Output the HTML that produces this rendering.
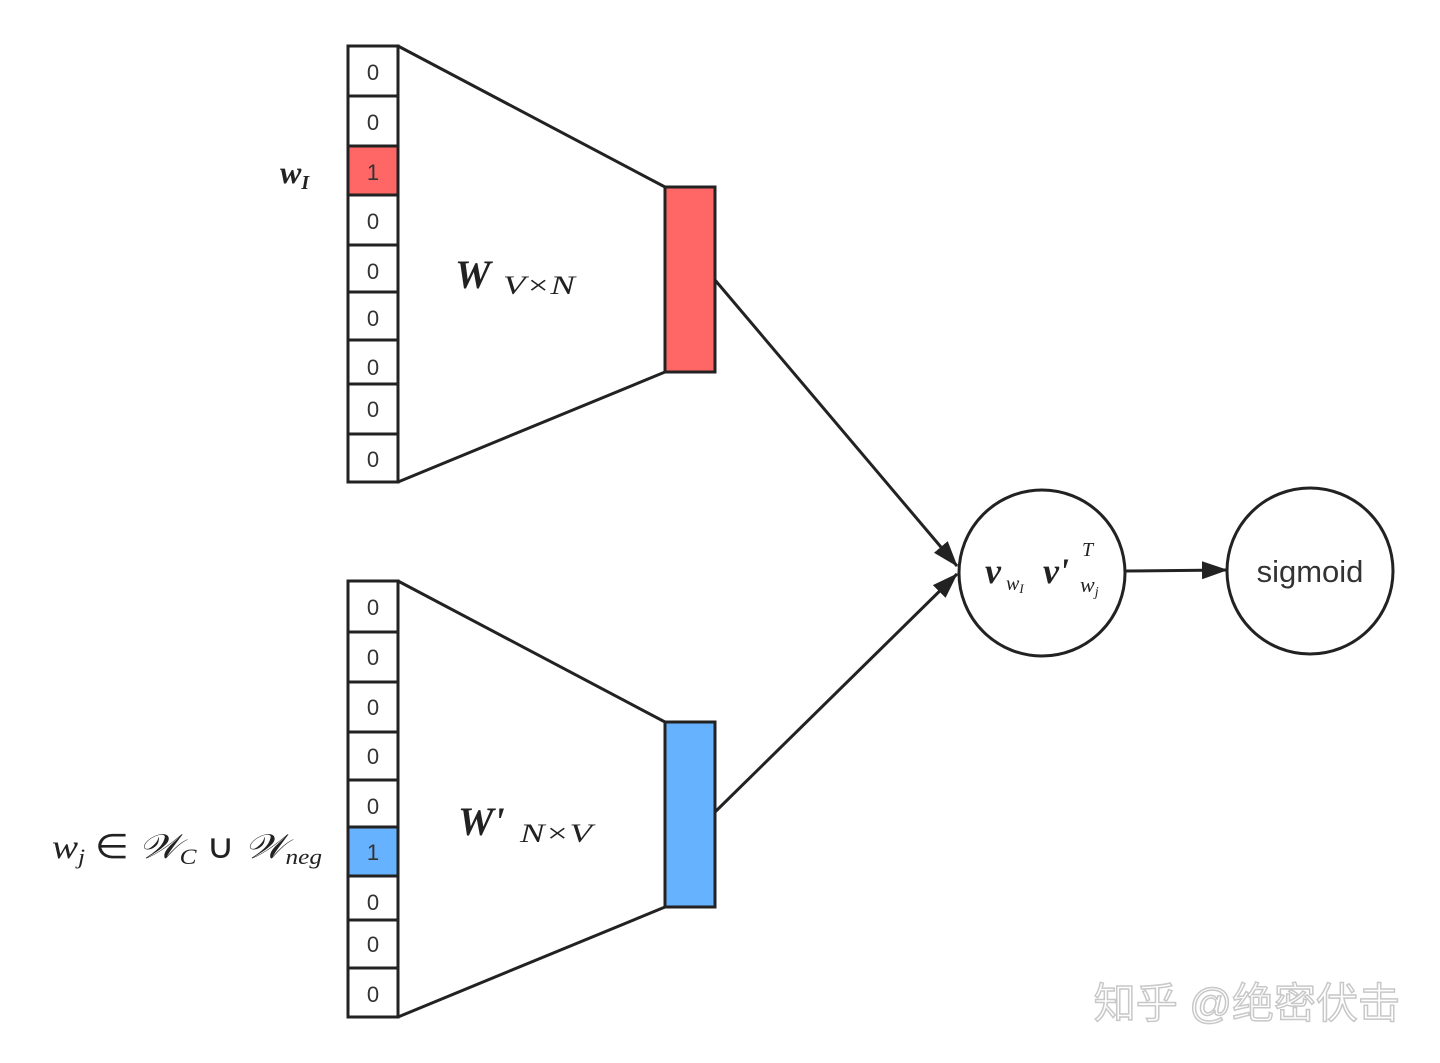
<!DOCTYPE html>
<html><head><meta charset="utf-8"><style>
html,body{margin:0;padding:0;background:#fff;}
svg{display:block;}
.n{font-family:"Liberation Sans",sans-serif;font-size:22px;fill:#333;text-anchor:middle;}
.m{font-family:"Liberation Serif",serif;fill:#222;}
</style></head><body>
<svg width="1440" height="1063" viewBox="0 0 1440 1063" xmlns="http://www.w3.org/2000/svg">
<defs>
<marker id="b" markerWidth="26" markerHeight="20" refX="25" refY="10" orient="auto" markerUnits="userSpaceOnUse" viewBox="0 0 26 20"><path d="M0,1 L26,10 L0,19 z" fill="#222"/></marker></defs>
<g stroke="#222" stroke-width="3" fill="none">
<line x1="398" y1="46" x2="665" y2="187"/><line x1="398" y1="482" x2="665" y2="372"/>
<line x1="398" y1="581" x2="665" y2="722"/><line x1="398" y1="1017" x2="665" y2="907"/>
<line x1="715" y1="280" x2="957" y2="566" marker-end="url(#b)"/>
<line x1="715" y1="812" x2="957" y2="574" marker-end="url(#b)"/>
<line x1="1125" y1="571" x2="1227" y2="570" marker-end="url(#b)"/>
<circle cx="1042" cy="573" r="83"/><circle cx="1310" cy="571" r="83"/>
</g>
<g stroke="#222" stroke-width="3">
<rect x="348" y="46" width="50" height="50" fill="#fff"/>
<rect x="348" y="96" width="50" height="50" fill="#fff"/>
<rect x="348" y="146" width="50" height="49" fill="#ff6666"/>
<rect x="348" y="195" width="50" height="50" fill="#fff"/>
<rect x="348" y="245" width="50" height="47" fill="#fff"/>
<rect x="348" y="292" width="50" height="48" fill="#fff"/>
<rect x="348" y="340" width="50" height="44" fill="#fff"/>
<rect x="348" y="384" width="50" height="50" fill="#fff"/>
<rect x="348" y="434" width="50" height="48" fill="#fff"/>
<rect x="348" y="581" width="50" height="51" fill="#fff"/>
<rect x="348" y="632" width="50" height="50" fill="#fff"/>
<rect x="348" y="682" width="50" height="50" fill="#fff"/>
<rect x="348" y="732" width="50" height="48" fill="#fff"/>
<rect x="348" y="780" width="50" height="47" fill="#fff"/>
<rect x="348" y="827" width="50" height="49" fill="#66b2ff"/>
<rect x="348" y="876" width="50" height="44" fill="#fff"/>
<rect x="348" y="920" width="50" height="48" fill="#fff"/>
<rect x="348" y="968" width="50" height="49" fill="#fff"/>
<rect x="665" y="187" width="50" height="185" fill="#ff6666"/>
<rect x="665" y="722" width="50" height="185" fill="#66b2ff"/>
</g>
<g class="n">
<text x="373" y="80">0</text><text x="373" y="130">0</text><text x="373" y="180">1</text><text x="373" y="229">0</text><text x="373" y="279">0</text><text x="373" y="326">0</text><text x="373" y="375">0</text><text x="373" y="417">0</text><text x="373" y="467">0</text>
<text x="373" y="615">0</text><text x="373" y="665">0</text><text x="373" y="715">0</text><text x="373" y="764">0</text><text x="373" y="814">0</text><text x="373" y="860">1</text><text x="373" y="910">0</text><text x="373" y="952">0</text><text x="373" y="1002">0</text>
</g>
<text class="m" x="280" y="183" font-size="32" font-style="italic" font-weight="bold">w<tspan font-size="20" dy="6">I</tspan></text>
<text class="m" x="455" y="288" font-size="40" font-style="italic" font-weight="bold">W</text>
<text class="m" x="503" y="294" font-size="26" font-style="italic" fill="#555" textLength="72" lengthAdjust="spacingAndGlyphs">V×N</text>
<text class="m" x="458" y="835" font-size="40" font-style="italic" font-weight="bold">W'</text>
<text class="m" x="520" y="842" font-size="26" font-style="italic" fill="#555" textLength="72" lengthAdjust="spacingAndGlyphs">N×V</text>
<text class="m" x="52" y="858" font-size="34" font-style="italic" textLength="270" lengthAdjust="spacingAndGlyphs">w<tspan font-size="22" dy="6">j</tspan><tspan dy="-6" font-style="normal"> ∈ </tspan>𝒲<tspan font-size="22" dy="6">C</tspan><tspan dy="-6" font-style="normal"> ∪ </tspan>𝒲<tspan font-size="22" dy="6">neg</tspan></text>
<text class="m" x="985" y="583" font-size="36" font-style="italic" font-weight="bold">v</text>
<text class="m" x="1006" y="590" font-size="20" font-style="italic" fill="#555">w<tspan font-size="13" dy="3">I</tspan></text>
<text class="m" x="1043" y="583" font-size="36" font-style="italic" font-weight="bold">v'</text>
<text class="m" x="1082" y="556" font-size="20" font-style="italic" fill="#555">T</text>
<text class="m" x="1080" y="592" font-size="22" font-style="italic" fill="#555">w<tspan font-size="14" dy="4">j</tspan></text>
<text x="1310" y="582" font-family="Liberation Sans,sans-serif" font-size="31" fill="#333" text-anchor="middle">sigmoid</text>
<text x="1400" y="1018" font-family="'Liberation Sans','Noto Sans CJK SC',sans-serif" font-size="42" fill="#fff" stroke="#c8c8c8" stroke-width="1.5" text-anchor="end">知乎 @绝密伏击</text>
</svg>
</body></html>
